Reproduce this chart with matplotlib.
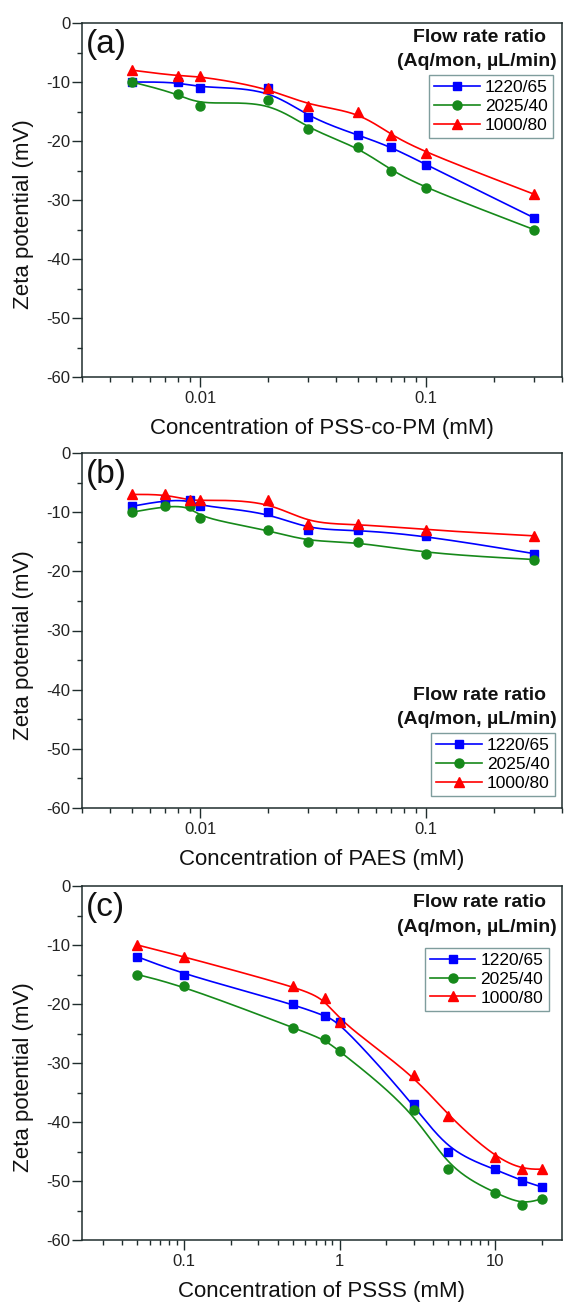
import numpy as np
import matplotlib
matplotlib.use('Agg')
import matplotlib.pyplot as plt
from matplotlib.lines import Line2D
from matplotlib.ticker import MultipleLocator, LogLocator, NullFormatter, FixedLocator, FixedFormatter

plt.rcParams['font.family'] = ['Liberation Sans', 'DejaVu Sans']
plt.rcParams['axes.unicode_minus'] = False

series_names = ['1220/65', '2025/40', '1000/80']
colors = ['#0000ff', '#16891a', '#ff0000']
markers = ['s', 'o', '^']
msizes = [6, 6.5, 7]

# (a) PSS-co-PM
conc_a = [0.005, 0.008, 0.01, 0.02, 0.03, 0.05, 0.07, 0.1, 0.3]
zeta_a_1220 = [-10, -10, -11, -11, -16, -19, -21, -24, -33]
zeta_a_2025 = [-10, -12, -14, -13, -18, -21, -25, -28, -35]
zeta_a_1000 = [-8, -9, -9, -11, -14, -15, -19, -22, -29]

# (b) PAES
conc_b = [0.005, 0.007, 0.009, 0.01, 0.02, 0.03, 0.05, 0.1, 0.3]
zeta_b_1220 = [-9, -8, -8, -9, -10, -13, -13, -14, -17]
zeta_b_2025 = [-10, -9, -9, -11, -13, -15, -15, -17, -18]
zeta_b_1000 = [-7, -7, -8, -8, -8, -12, -12, -13, -14]

# (c) PSSS
conc_c = [0.05, 0.1, 0.5, 0.8, 1, 3, 5, 10, 15, 20]
zeta_c_1220 = [-12, -15, -20, -22, -23, -37, -45, -48, -50, -51]
zeta_c_2025 = [-15, -17, -24, -26, -28, -38, -48, -52, -54, -53]
zeta_c_1000 = [-10, -12, -17, -19, -23, -32, -39, -46, -48, -48]


def bspline(x, y, n=40):
    # uniform cubic B-spline through (log x, y) control points, ends clamped
    lx = np.log10(np.asarray(x, float))
    yy = np.asarray(y, float)
    px = np.r_[lx[0], lx[0], lx, lx[-1], lx[-1]]
    py = np.r_[yy[0], yy[0], yy, yy[-1], yy[-1]]
    t = np.linspace(0, 1, n)
    b0 = (1 - t) ** 3 / 6
    b1 = (3 * t ** 3 - 6 * t ** 2 + 4) / 6
    b2 = (-3 * t ** 3 + 3 * t ** 2 + 3 * t + 1) / 6
    b3 = t ** 3 / 6
    cx, cy = [], []
    for i in range(len(px) - 3):
        cx.append(b0 * px[i] + b1 * px[i + 1] + b2 * px[i + 2] + b3 * px[i + 3])
        cy.append(b0 * py[i] + b1 * py[i + 1] + b2 * py[i + 2] + b3 * py[i + 3])
    return 10 ** np.concatenate(cx), np.concatenate(cy)


spine_col = '#1f2d2d'
W, H = 564, 1303
fig = plt.figure(figsize=(W / 100, H / 100), dpi=100)

panels = [
    dict(label='(a)', x=conc_a, ys=[zeta_a_1220, zeta_a_2025, zeta_a_1000],
         xlabel='Concentration of PSS-co-PM (mM)', xlim=(0.003, 0.4),
         xt=[0.01, 0.1], xtl=['0.01', '0.1'],
         rect=[82 / W, (H - 377) / H, 480 / W, 354 / H],
         leg=(0.981, 0.853), t1=0.958, t2=0.89),
    dict(label='(b)', x=conc_b, ys=[zeta_b_1220, zeta_b_2025, zeta_b_1000],
         xlabel='Concentration of PAES (mM)', xlim=(0.003, 0.4),
         xt=[0.01, 0.1], xtl=['0.01', '0.1'],
         rect=[82 / W, (H - 808) / H, 480 / W, 355 / H],
         leg=(0.985, 0.211), t1=0.318, t2=0.248),
    dict(label='(c)', x=conc_c, ys=[zeta_c_1220, zeta_c_2025, zeta_c_1000],
         xlabel='Concentration of PSSS (mM)', xlim=(0.022, 27),
         xt=[0.1, 1, 10], xtl=['0.1', '1', '10'],
         rect=[82 / W, (H - 1240) / H, 480 / W, 354 / H],
         leg=(0.972, 0.825), t1=0.953, t2=0.882),
]

for p in panels:
    ax = fig.add_axes(p['rect'])
    for ys, c, m, ms in zip(p['ys'], colors, markers, msizes):
        sx, sy = bspline(p['x'], ys)
        ax.plot(sx, sy, color=c, lw=1.2, zorder=2)
        ax.plot(p['x'], ys, ls='none', marker=m, ms=ms, color=c, zorder=3)
    ax.set_xscale('log')
    ax.set_xlim(*p['xlim'])
    ax.set_ylim(-60, 0)
    ax.xaxis.set_major_locator(FixedLocator(p['xt']))
    ax.xaxis.set_major_formatter(FixedFormatter(p['xtl']))
    ax.xaxis.set_minor_locator(LogLocator(base=10, subs=np.arange(2, 10)))
    ax.xaxis.set_minor_formatter(NullFormatter())
    ax.yaxis.set_major_locator(MultipleLocator(10))
    ax.yaxis.set_minor_locator(MultipleLocator(5))
    for s in ax.spines.values():
        s.set_color(spine_col)
        s.set_linewidth(1.1)
    ax.tick_params(which='major', direction='out', length=7, width=1, color=spine_col,
                   labelsize=12, labelcolor='#222222')
    ax.tick_params(which='minor', direction='out', length=3.5, width=1, color=spine_col)
    ax.tick_params(axis='y', pad=1.5)
    ax.tick_params(axis='x', pad=3)
    ax.set_xlabel(p['xlabel'], fontsize=16, labelpad=9, color='#111111')
    ax.set_ylabel('Zeta potential (mV)', fontsize=16, color='#111111')
    ax.yaxis.set_label_coords(-0.1, 0.46)
    ax.text(0.008, 0.94, p['label'], transform=ax.transAxes, fontsize=24,
            ha='left', va='center', color='#111111')
    ax.text(0.967, p['t1'], 'Flow rate ratio', transform=ax.transAxes, fontsize=14,
            fontweight='bold', ha='right', va='center', color='#111111')
    ax.text(0.99, p['t2'], '(Aq/mon, µL/min)', transform=ax.transAxes, fontsize=14,
            fontweight='bold', ha='right', va='center', color='#111111')
    handles = [Line2D([], [], color=c, marker=m, ms=ms, lw=1.2)
               for c, m, ms in zip(colors, markers, msizes)]
    leg = ax.legend(handles, series_names, loc='upper right', bbox_to_anchor=p['leg'],
                    fontsize=12.5, frameon=True, fancybox=False, borderpad=0.3,
                    labelspacing=0.2, handlelength=2.6, handletextpad=0.3,
                    borderaxespad=0)
    leg.get_frame().set_edgecolor('#5f8585')
    leg.get_frame().set_linewidth(1.0)

fig.savefig('out.png', dpi=100)
